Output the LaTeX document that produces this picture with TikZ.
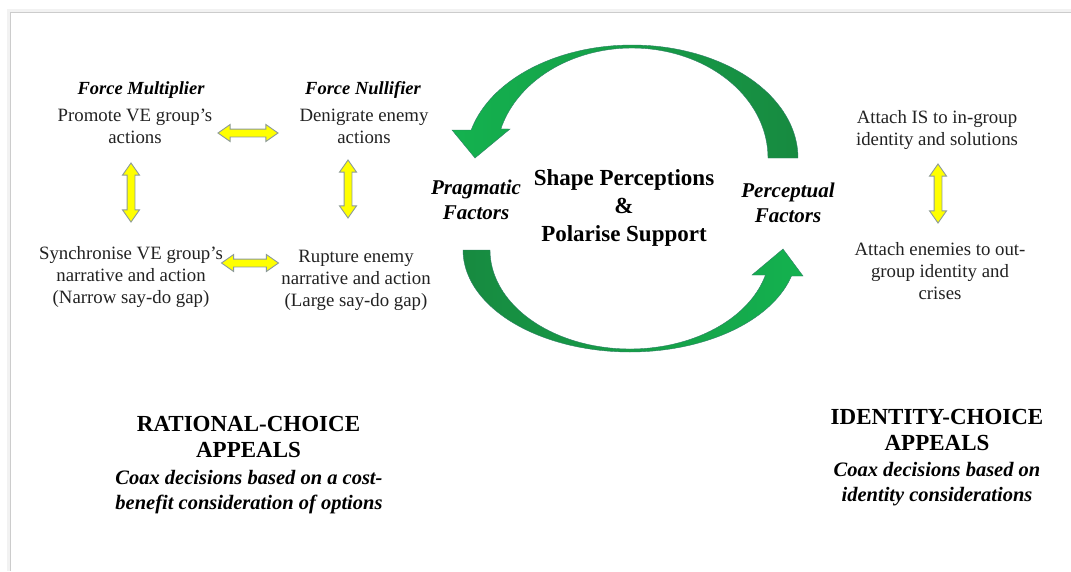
\documentclass[tikz,border=0pt]{standalone}
\usepackage{fontspec}
\setmainfont{Liberation Serif}
\usetikzlibrary{shapes.arrows}
\definecolor{bodytext}{HTML}{222222}
\definecolor{greenlight}{HTML}{14B24F}
\definecolor{greendark}{HTML}{178A40}
\definecolor{greenedge}{HTML}{2E7F66}
\definecolor{arrowyellow}{HTML}{FFFF00}
\definecolor{arrowedge}{HTML}{8C9A9A}
\definecolor{frameline}{HTML}{CCCCCC}

\begin{document}
\begin{tikzpicture}[x=1pt,y=-1pt,
  % multi-line nodes sit on the baseline of their last line
  body/.style={align=center, inner sep=0pt, anchor=base, text=bodytext,
    font=\fontsize{18.8}{22}\selectfont},
  header/.style={inner sep=0pt, anchor=base,
    font=\fontsize{18.5}{22}\selectfont\bfseries\itshape},
  factor/.style={align=center, inner sep=0pt, anchor=base,
    font=\fontsize{21}{25}\selectfont\bfseries\itshape},
  hub/.style={align=center, inner sep=0pt, anchor=base,
    font=\fontsize{23}{28}\selectfont\bfseries},
  appeal/.style={align=center, inner sep=0pt, anchor=base,
    font=\fontsize{23}{26}\selectfont\bfseries},
  appealsub/.style={align=center, inner sep=0pt, anchor=base,
    font=\fontsize{20.5}{25}\selectfont\bfseries\itshape},
  link/.style={shape=double arrow, fill=arrowyellow, draw=arrowedge,
    line width=0.9pt, inner sep=3.5pt, double arrow head extend=4.5pt,
    double arrow tip angle=70, minimum height=#1},
]
% page and its frame
\useasboundingbox (0,0) rectangle (1071,571);
\fill[white] (0,0) rectangle (1071,571);
\draw[line width=3pt, black!5] (8.5,571) -- (8.5,10.5) -- (1071,10.5);
\draw[line width=0.8pt, frameline] (10.5,571) -- (10.5,12.5) -- (1071,12.5);

% rational-choice side
\node[header] (fm) at (141,94) {Force Multiplier};
\node[body] (promote) at (135,143) {Promote VE group’s\\actions};
\node[header] (fn) at (363,94) {Force Nullifier};
\node[body] (denigrate) at (364,143) {Denigrate enemy\\actions};
\node[body] (sync) at (131,303) {Synchronise VE group’s\\narrative and action\\(Narrow say-do gap)};
\node[body] (rupture) at (356,306) {Rupture enemy\\narrative and action\\(Large say-do gap)};

\node[link=60pt] (pd) at (248,133) {};
\node[link=57pt] (sr) at (250,263) {};
\node[link=59pt, rotate=90] (ps) at (131,192.5) {};
\node[link=58pt, rotate=90] (dr) at (348,189) {};

% central cycle
\node[factor] (prag) at (476,219) {Pragmatic\\Factors};
\node[hub] (hub) at (624,241) {Shape Perceptions\\\&\\Polarise Support};
\node[factor] (perc) at (788,222) {Perceptual\\Factors};

\path[draw=greenedge, line width=0.4pt, left color=greenlight, right color=greendark]
  (798,158) -- plot[domain=0:165.65, samples=80] ({632+166*cos(\x)},{158-113*sin(\x)})
  -- (452,130) -- (475,158) -- (510,129)
  -- plot[domain=164.7:0, samples=80] ({632+136*cos(\x)},{158-110*sin(\x)}) -- cycle;
\path[draw=greenedge, line width=0.4pt, left color=greendark, right color=greenlight]
  (463,250) -- plot[domain=180:345.23, samples=80] ({630+167*cos(\x)},{250-102*sin(\x)})
  -- (803,276) -- (783,249) -- (752,275)
  -- plot[domain=345.37:180, samples=80] ({630+140*cos(\x)},{250-99*sin(\x)}) -- cycle;

% identity-choice side
\node[body] (ingroup) at (937,145) {Attach IS to in-group\\identity and solutions};
\node[body] (outgroup) at (940,299) {Attach enemies to out-\\group identity and\\crises};
\node[link=59pt, rotate=90] (io) at (938,193.5) {};

% appeals
\node[appeal] (rational) at (248.5,457) {RATIONAL-CHOICE\\APPEALS};
\node[appealsub] (rationalsub) at (249,509) {Coax decisions based on a cost-\\benefit consideration of options};
\node[appeal] (identity) at (937,450) {IDENTITY-CHOICE\\APPEALS};
\node[appealsub] (identitysub) at (937,501) {Coax decisions based on\\identity considerations};
\end{tikzpicture}
\end{document}
